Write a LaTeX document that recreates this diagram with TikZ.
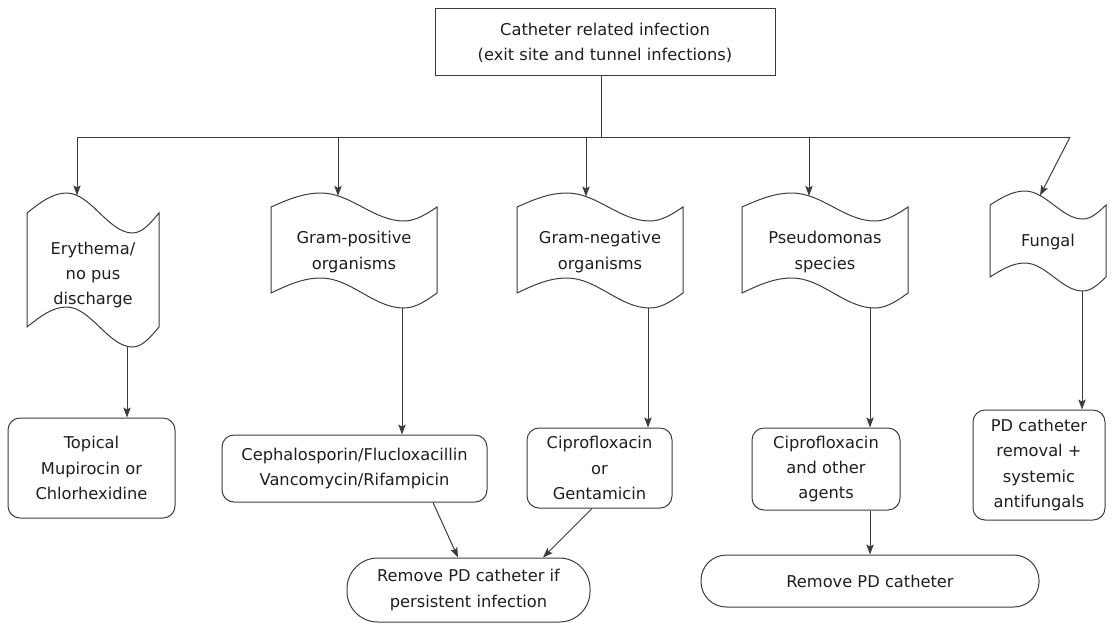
\documentclass[tikz,border=0pt]{standalone}
\usepackage{fontspec}
\setmainfont{DejaVu Sans}
\usetikzlibrary{arrows.meta,calc}
\definecolor{linec}{HTML}{3C3C3C}
\definecolor{txtc}{HTML}{1E1E1E}
% #1 left x, #2 right x, #3 top base, #4 top amplitude, #5 bottom base, #6 bottom amplitude
\newcommand\tapepath[6]{%
  \draw[shp] (#1,#3) sin ({#1+0.30*(#2-#1)},{#3-#4}) cos ({#1+0.55*(#2-#1)},#3)
    sin ({#1+0.80*(#2-#1)},{#3+#4}) cos (#2,#3) -- (#2,#5)
    sin ({#1+0.80*(#2-#1)},{#5+#6}) cos ({#1+0.55*(#2-#1)},#5)
    sin ({#1+0.30*(#2-#1)},{#5-#6}) cos (#1,#5) -- cycle;}
\begin{document}
\begin{tikzpicture}[x=0.75pt,y=-0.75pt,
  shp/.style={draw=linec,line width=0.75pt},
  txt/.style={text=txtc,align=center,font=\fontsize{12.2}{19}\selectfont,inner sep=0pt},
  sqbox/.style={txt,draw=linec,line width=0.75pt},
  rbox/.style={sqbox,rounded corners=9pt},
  term/.style={sqbox},
  conn/.style={draw=linec,line width=0.75pt},
  arr/.style={conn,-{Stealth[length=7.5pt,width=5.5pt,inset=1.5pt]}}]
\useasboundingbox (0,0) rectangle (1112,626);

% top box
\node[sqbox,minimum width=255pt,minimum height=50.25pt,text depth=-3pt] (top) at (605,41.5)
  {Catheter related infection\\(exit site and tunnel infections)};

% tape shapes
\tapepath{27}{159}{213}{20}{327}{20}
\tapepath{271}{437}{207}{14}{293}{15}
\tapepath{517}{683}{207}{14}{293}{15}
\tapepath{742}{908}{207}{14}{293}{15}
\tapepath{990}{1106}{205}{14}{277}{14}

\node[txt] (ery) at (93,275) {Erythema/\\no pus\\discharge};
\node[txt] (gp) at (354,252) {Gram-positive\\organisms};
\node[txt] (gn) at (600,252) {Gram-negative\\organisms};
\node[txt] (ps) at (825,252) {Pseudomonas\\species};
\node[txt] (fu) at (1048,242) {Fungal};

% arrow end points on the tape outlines
\coordinate (ery-in) at (77,195.4);
\coordinate (gp-in) at (338,195.9);
\coordinate (gn-in) at (586,196.5);
\coordinate (ps-in) at (809,195.9);
\coordinate (fu-in) at (1040,195.5);
\coordinate (ery-out) at (127,346.3);
\coordinate (gp-out) at (402,308);
\coordinate (gn-out) at (648,308);
\coordinate (ps-out) at (870,307.7);
\coordinate (fu-out) at (1082,291);

% bottom boxes
\node[rbox,minimum width=125.25pt,minimum height=75pt] (top1) at (91.5,468)
  {Topical\\Mupirocin or\\Chlorhexidine};
\node[rbox,minimum width=198.75pt,minimum height=50.25pt] (ceph) at (354.5,468.5)
  {Cephalosporin/Flucloxacillin\\Vancomycin/Rifampicin};
\node[rbox,minimum width=108.75pt,minimum height=60pt] (gent) at (599.5,468)
  {Ciprofloxacin\\or\\Gentamicin};
\node[rbox,minimum width=111pt,minimum height=61.5pt] (cipo) at (826,469)
  {Ciprofloxacin\\and other\\agents};
\node[rbox,minimum width=99pt,minimum height=82.5pt] (pdrem) at (1039,465)
  {PD catheter\\removal +\\systemic\\antifungals};
\node[term,rounded corners=19pt,minimum width=253.5pt,minimum height=39pt] (remove) at (870,581)
  {Remove PD catheter};
\node[term,rounded corners=23pt,minimum width=182.25pt,minimum height=48pt] (persist) at (468.5,590)
  {Remove PD catheter if\\persistent infection};

% trunk
\coordinate (jL) at (77,137);
\coordinate (jM) at (601,137);
\coordinate (jR) at (1070,137);
\draw[conn] (top.south -| jM) -- (jM);
\draw[conn] (jL) -- (jR);

\draw[arr] (jL) -- (ery-in);
\draw[arr] (gp-in |- jL) -- (gp-in);
\draw[arr] (gn-in |- jL) -- (gn-in);
\draw[arr] (ps-in |- jL) -- (ps-in);
\draw[arr] (jR) -- (fu-in);

\draw[arr] (ery-out) -- (top1.north -| ery-out);
\draw[arr] (gp-out) -- (ceph.north -| gp-out);
\draw[arr] (gn-out) -- (gent.north -| gn-out);
\draw[arr] (ps-out) -- (cipo.north -| ps-out);
\draw[arr] (fu-out) -- (pdrem.north -| fu-out);
\draw[arr] (cipo.south -| ps-out) -- (remove.north);

\coordinate (c1) at (433,0);
\coordinate (c2) at (458,0);
\coordinate (c3) at (592,0);
\coordinate (c4) at (543,0);
\draw[arr] (ceph.south -| c1) -- (persist.north -| c2);
\draw[arr] (gent.south -| c3) -- (persist.north -| c4);
\end{tikzpicture}
\end{document}
